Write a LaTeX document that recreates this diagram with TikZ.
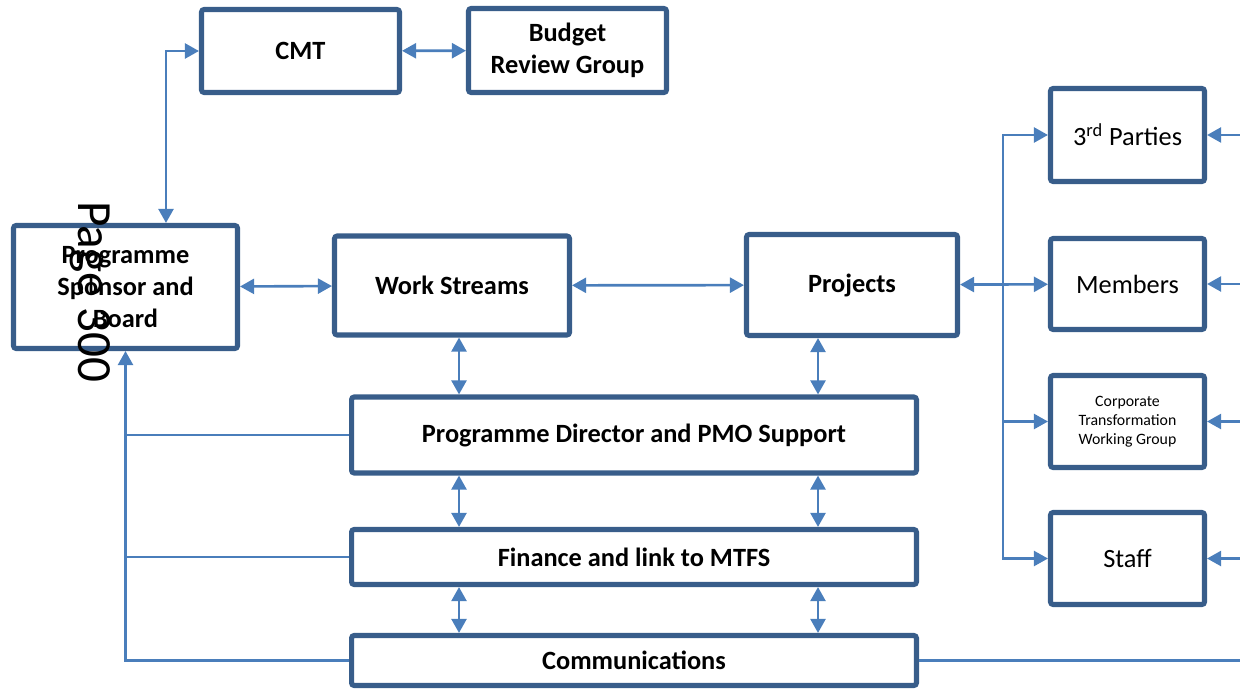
\documentclass[tikz,border=0pt]{standalone}
\usepackage{fontspec}
\setmainfont{Carlito}
\usetikzlibrary{arrows.meta}
\definecolor{boxblue}{RGB}{56,93,138}
\definecolor{lineblue}{RGB}{74,126,187}
\tikzstyle{unit}=[draw=boxblue, line width=2.9pt, rounded corners=1.5pt, fill=white, align=center, inner sep=2pt, font=\bfseries\fontsize{15}{18}\selectfont]
\tikzstyle{party}=[unit, minimum width=3.08cm, font=\fontsize{15}{18}\selectfont]
\tikzstyle{wire}=[draw=lineblue, line width=1.5pt]
\tikzstyle{both}=[wire, <->]
\tikzstyle{into}=[wire, ->]

\begin{document}
\begin{tikzpicture}[x=0.02cm, y=-0.02cm, >={Triangle[length=8pt,width=8.5pt]}]
        \useasboundingbox (0,0) rectangle (1240,689);
        % board, top groups and the work boxes
        \node[unit, minimum width=4.48cm, minimum height=2.46cm] (board) at (125.5,287) {Programme\\Sponsor and\\Board};
        \node[unit, minimum width=3.96cm, minimum height=1.66cm] (cmt) at (300.5,51) {CMT};
        \node[unit, minimum width=3.96cm, minimum height=1.68cm] (budget) at (567.5,50.5) {Budget\\Review Group};
        \node[unit, minimum width=4.7cm, minimum height=1.98cm] (streams) at (452,285.5) {Work Streams};
        \node[unit, minimum width=4.22cm, minimum height=2.02cm] (projects) at (852,285) {Projects};
        \node[unit, minimum width=11.3cm, minimum height=1.52cm] (pmo) at (634,435) {Programme Director and PMO Support};
        \node[unit, minimum width=11.3cm, minimum height=1.1cm] (finance) at (634,557) {Finance and link to MTFS};
        \node[unit, minimum width=11.3cm, minimum height=1.0cm] (comms) at (634,660.5) {Communications};
        % stakeholders on the right
        \node[party, minimum height=1.86cm] (third) at (1127.5,135) {3\textsuperscript{rd} Parties};
        \node[party, minimum height=1.82cm] (members) at (1127.5,284) {Members};
        \node[party, minimum height=1.84cm, font=\fontsize{9}{10.8}\selectfont] (ctwg) at (1127.5,421.5) {Corporate\\Transformation\\Working Group};
        \node[party, minimum height=1.84cm] (staff) at (1127.5,558.5) {Staff};
        \node[rotate=-90, anchor=base, font=\fontsize{28}{28}\selectfont] (pagemark) at (78,292) {Page 300};

        \coordinate (rim) at (1240,0);
        \coordinate (bus) at (1003,284);
        \coordinate (colA) at (459,0);
        \coordinate (colB) at (818,0);

        \draw[both] ([xshift=0.81cm]board.north) |- (cmt.west);
        \draw[both] (cmt) -- (budget);
        \draw[both] (board) -- (streams);
        \draw[both] (streams) -- (projects);
        \draw[both] (projects) -- (members);
        \foreach \n in {third,ctwg,staff}
            \draw[into] (bus) |- (\n.west);
        \foreach \n in {third,members,ctwg,staff}
            \draw[into] (\n.east -| rim) -- (\n.east);
        \foreach \a/\b/\c in {streams/pmo/colA, projects/pmo/colB, pmo/finance/colA, pmo/finance/colB, finance/comms/colA, finance/comms/colB}
            \draw[both] (\a.south -| \c) -- (\b.north -| \c);
        % feedback lines back to the board
        \draw[into] (comms.west) -| (board.south);
        \foreach \n in {pmo,finance}
            \draw[wire] (\n.west) -- (\n.west -| board.south);
        \draw[wire] (comms.east) -- (comms.east -| rim);
    \end{tikzpicture}
\end{document}
